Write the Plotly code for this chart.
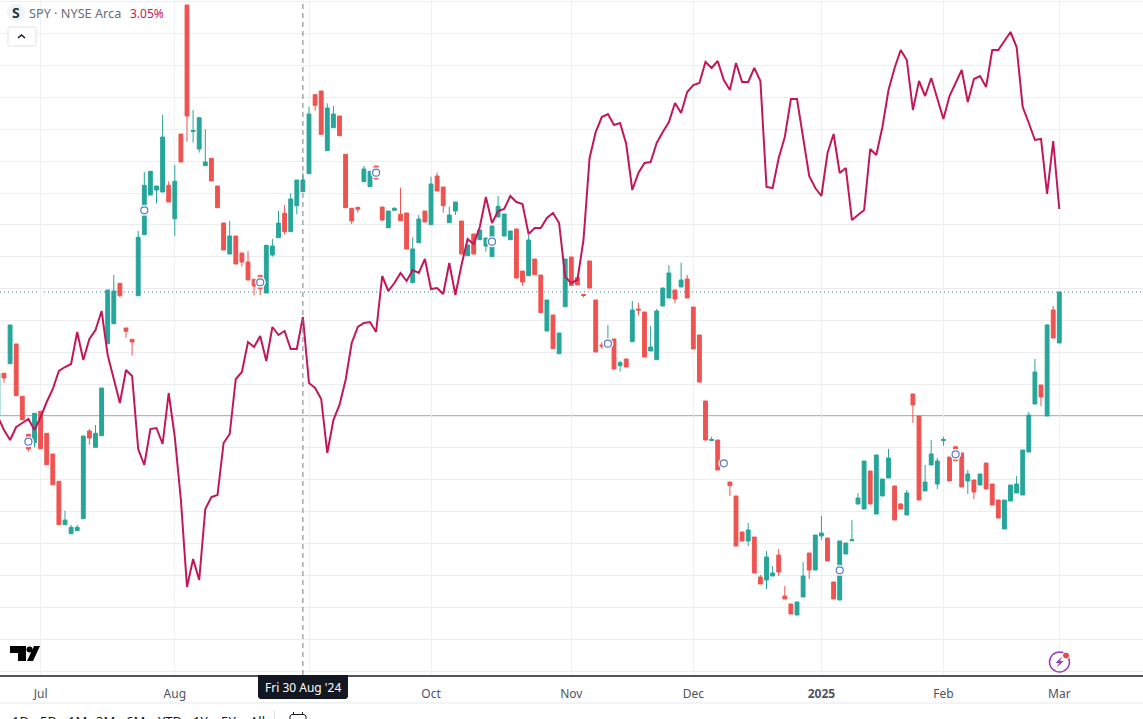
import numpy as np
import plotly.graph_objects as go

# rebased levels (the source hides its price axis)
open_levels = [
    285, 326.7, 336.3, 356, 303.7, 265.7, 257.3, 288.7, 266.7, 246,
    218.7, 175.3, 166.3, 169.3, 181.3, 269, 252.7, 264.3, 356.3, 376.3,
    416.7, 372, 360.7, 404.3, 465.3, 505, 510, 508, 514.7, 481.3,
    566, 695, 568.5, 551, 534.3, 541.7, 514, 477, 446, 464,
    447, 438, 420.7, 424.7, 407, 445, 462.3, 486.7, 468.3, 494.3,
    508.3, 526.3, 605.3, 609, 549.3, 572.3, 584, 545.7, 491.7, 492.7,
    518.3, 513.3, 534, 493, 472.3, 489.7, 485.7, 487, 417.3, 457.3,
    489, 475.3, 524, 513, 477.3, 489, 479, 444.3, 466, 460.3,
    454, 443.3, 483, 464, 460.3, 471, 429, 424.3, 441, 425,
    369, 385, 346.3, 393.3, 443, 422.3, 405.5, 439, 400, 355,
    354, 361, 334.3, 341, 358.3, 391, 388, 349, 340.3, 394,
    402, 410, 413, 421, 393, 365, 299, 259.5, 260, 235,
    218, 204, 168, 159, 163, 123, 120, 124, 145, 104,
    96, 85, 103, 147, 130, 164, 162, 118, 100, 146,
    159.2, 196, 191, 229, 186, 204, 222, 214, 196, 185,
    306, 284, 209, 235, 216, 259.5, 243, 253.3, 247, 219,
    220, 215, 237, 216, 200, 171, 199, 207, 205, 248,
    296, 315, 284, 390, 357,
]
high_levels = [
    327, 326.7, 375, 356, 303.7, 265.7, 286.7, 288.7, 266.7, 246,
    218.7, 189.3, 175, 175, 264, 271, 275, 312, 410, 425,
    416.7, 372, 360.7, 469, 528, 528.7, 514, 585, 518.7, 535,
    566, 695, 590, 582.3, 570.7, 541.7, 514, 477, 479, 464,
    447, 449, 420.7, 424.7, 454.7, 461, 489.3, 495, 506.7, 520,
    527.3, 593.3, 605.3, 609, 596.7, 594, 584, 545.7, 491.7, 492.7,
    534, 528.7, 534, 493, 489, 492.7, 512.3, 487, 462.7, 485,
    489, 523.3, 527.7, 513, 493.3, 498, 479, 455, 466, 470,
    462, 474, 504, 486, 469, 471, 429, 465, 441, 425,
    400, 385, 367, 441, 443, 422.3, 405.5, 439, 400, 358,
    375, 361, 339.3, 341, 399, 397.3, 388, 374, 391, 412,
    435, 410, 437.3, 425, 393, 365, 299, 263.3, 260, 239,
    218, 204, 168, 177, 163, 125, 149, 134, 151, 114,
    96, 98, 138, 147, 165, 184, 162, 118, 159, 157,
    180, 207, 239, 229, 245, 221, 251, 214, 197, 210,
    306, 284, 235, 260, 242, 263.3, 243, 253.3, 247, 230,
    220, 226, 237, 216, 200, 200, 215, 224, 250, 288,
    341, 315, 376, 394, 408,
]
low_levels = [
    285, 317.3, 336.3, 304.3, 280.3, 248.3, 252.7, 251.3, 235.3, 215.3,
    175.3, 175.3, 166.3, 169.3, 181.3, 255.3, 252.7, 264.3, 356.3, 376.3,
    403, 362.3, 344.3, 404.3, 465.3, 505, 496.7, 508, 498, 464,
    538, 558.3, 557.3, 547.3, 534.3, 519, 492.3, 450, 446, 436,
    433.3, 420, 404.7, 404.7, 407, 443.3, 462.3, 465.3, 468.3, 485.7,
    508.3, 526.3, 589.3, 565.7, 549.3, 572.3, 564.3, 492.3, 475.7, 487.3,
    518.3, 513.3, 521, 479, 472.3, 489.7, 479.3, 451, 417.3, 457.3,
    478, 475.3, 509, 487.3, 477.3, 485, 446, 444.3, 446, 460.3,
    448.3, 443.3, 483, 464, 460.3, 422, 414.3, 424.3, 425.3, 387.3,
    369, 351.3, 346.3, 393.3, 414.5, 415, 402.7, 412, 348, 351.3,
    354, 331, 328.3, 333, 358.3, 384.7, 343, 349, 340.3, 394,
    402, 397, 413, 402, 351, 318, 260, 259.5, 230, 235,
    204, 154, 159, 154, 127, 116, 111, 124, 124, 101,
    86, 85, 103, 121, 130, 160, 139, 101, 100, 146,
    159.2, 196, 191, 196, 186, 204, 222, 180, 191, 185,
    277, 200, 209, 235, 211, 254.3, 219, 239.3, 213, 206,
    201, 215, 211, 195, 182, 171, 199, 207, 205, 248,
    296, 294, 284, 362, 357,
]
close_levels = [
    327, 322, 375, 304.3, 280.3, 251, 286.7, 251.3, 235.3, 215.3,
    175.3, 180, 172.7, 172.7, 264, 262, 266.7, 312, 410, 409,
    404.3, 368.7, 358, 462.7, 514.7, 528.7, 514, 563, 498, 518.7,
    538, 584, 569.5, 582.3, 538, 519, 492.3, 450, 464, 436,
    438, 420, 414, 411.3, 454.7, 454, 477, 468.3, 501, 520,
    520, 586, 594.7, 565.7, 592, 586, 564.3, 492.3, 479, 490.7,
    531, 528.7, 521, 480, 489, 491.7, 479.3, 451, 451, 481,
    478, 516, 509, 494.3, 485, 498, 446, 455, 446, 470,
    462, 474, 493.7, 486, 469, 422, 418, 460, 425.3, 387.3,
    400, 351.3, 367, 441, 414.5, 415, 404.5, 412, 348, 354,
    359, 331, 337.3, 333, 390, 390, 343, 353, 389, 412,
    427, 401, 420, 402, 351, 318, 260, 260.5, 230, 239,
    214.3, 154, 159, 170, 127, 116, 143, 127, 128, 101,
    86, 98, 124, 130, 165, 167, 139, 101, 159, 157,
    160.2, 202, 239, 196, 245, 221, 242, 180, 191, 207,
    295, 200, 218, 246, 239, 260.5, 219, 239.3, 213, 226,
    208, 226, 211, 195, 182, 200, 215, 216, 250, 285,
    328, 303, 375, 362, 408,
]
compare_levels = [
    283, 270, 260, 273, 277, 281, 270, 283, 298, 311,
    329, 333, 336, 368, 340, 361, 370, 389, 345, 320,
    297, 330, 324, 251, 235, 271, 272, 256, 307, 263,
    200, 113, 141, 120, 191, 203, 205, 257, 266, 321,
    328, 358, 353, 364, 339, 373, 365, 369, 351, 351,
    383, 317, 312, 301, 247, 280, 295, 320, 357, 373,
    377, 378, 368, 424, 409, 417, 427, 419, 430, 427,
    441, 411, 412, 406, 437, 405, 435, 461, 456, 473,
    503, 477, 489, 491, 504, 498, 496, 466, 472, 472,
    482, 487, 477, 423, 417, 420, 460, 542, 568, 583,
    586, 575, 577, 556, 510, 527, 537, 538, 557, 568,
    578, 597, 587, 608, 615, 617, 638, 632, 639, 620,
    610, 637, 618, 618, 632, 619, 513, 512, 542, 563,
    601, 601, 560, 524, 512, 504, 547, 566, 527, 532,
    480, 485, 490, 551, 545, 573, 610, 632, 650, 640,
    590, 619, 604, 622, 602, 581, 604, 617, 630, 598,
    621, 624, 613, 650, 650, 659, 668, 653, 593, 577,
    560, 561, 506, 559, 491,
]
event_bars = [5, 24, 43, 62, 81, 100, 119, 138, 157]
event_levels = [258.3, 489.7, 417.7, 527.3, 458.3, 356.3, 236.7, 129.7, 245.7]

month_bars = [7, 29, 51, 71, 94, 114, 135, 155, 174]
month_labels = ['Jul', 'Aug', '', 'Oct', 'Nov', 'Dec', '<b>2025</b>', 'Feb', 'Mar']
range_labels = ['1D', '5D', '1M', '3M', '6M', 'YTD', '1Y', '5Y', 'All']
range_label_px = [20, 48, 77, 105, 135, 170, 200, 228, 257]

base_level = 284.5
last_level = 408
cursor_bar = 50

GREEN = '#26a69a'
RED = '#ef5350'
CRIMSON = '#c2185b'
FONT = 'Noto Sans'

WIDTH, HEIGHT, AXIS_PX = 1143, 719, 675


def px(x):
    return x / WIDTH


def py(y):
    return 1 - y / AXIS_PX


def path_shape(points, close=True, **kwargs):
    d = 'M' + ' L'.join('{:.5f},{:.5f}'.format(px(x), py(y)) for x, y in points)
    if close:
        d += ' Z'
    return dict(type='path', xref='paper', yref='paper', path=d, layer='above', **kwargs)


def circle_shape(cx, cy, r, **kwargs):
    return dict(type='circle', xref='paper', yref='paper', x0=px(cx - r), x1=px(cx + r),
                y0=py(cy + r), y1=py(cy - r), layer='above', **kwargs)


def label(text, x, y, size=12, color='#131722', xanchor='left', yanchor='middle'):
    return dict(text=text, xref='paper', yref='paper', x=px(x), y=py(y), showarrow=False,
                xanchor=xanchor, yanchor=yanchor, font=dict(family=FONT, size=size, color=color),
                borderpad=0, borderwidth=0)


bars = np.arange(len(close_levels))

fig = go.Figure()
fig.add_trace(go.Candlestick(x=bars, open=open_levels, high=high_levels, low=low_levels, close=close_levels,
                             increasing=dict(line=dict(color=GREEN, width=1), fillcolor=GREEN),
                             decreasing=dict(line=dict(color=RED, width=1), fillcolor=RED),
                             showlegend=False, hoverinfo='skip'))
fig.add_trace(go.Scatter(x=bars, y=compare_levels, mode='lines', line=dict(color=CRIMSON, width=2),
                         showlegend=False, hoverinfo='skip'))
fig.add_trace(go.Scatter(x=event_bars, y=event_levels, mode='markers', marker=dict(color='white', size=11),
                         showlegend=False, hoverinfo='skip'))
fig.add_trace(go.Scatter(x=event_bars, y=event_levels, mode='markers',
                         marker=dict(color='white', size=7, line=dict(color='#5b7bc9', width=1.2)),
                         showlegend=False, hoverinfo='skip'))

fig.add_hline(y=base_level, line_color='#b2b5be', line_width=1, layer='below')
fig.add_hline(y=last_level, line_color='#3f7f8c', line_width=1, line_dash='1px,3px', layer='below')
fig.add_vline(x=cursor_bar, line_color='#787b86', line_width=1, line_dash='5px,4px')

shapes = [
    # symbol badge and collapse button
    circle_shape(16, 12.5, 9, fillcolor='#f0f3fa', line_width=0),
    path_shape([(8, 28), (9, 27), (35, 27), (36, 28), (36, 45), (35, 46), (9, 46), (8, 45)],
               fillcolor='white', line=dict(color='#e0e3eb', width=1)),
    path_shape([(18, 38), (21.5, 35), (25, 38)], close=False, line=dict(color='#131722', width=1.5)),
    # TradingView logo
    path_shape([(10, 646), (26, 646), (26, 661), (18, 661), (18, 653), (10, 653)], fillcolor='#000000', line_width=0),
    circle_shape(29.5, 649.5, 3, fillcolor='#000000', line_width=0),
    path_shape([(34, 646), (40, 646), (33, 661), (27, 661)], fillcolor='#000000', line_width=0),
    # lightning badge
    circle_shape(1059.5, 662, 10, fillcolor='white', line=dict(color='#9c3fb5', width=1.5)),
    circle_shape(1066, 655.5, 3.5, fillcolor='#e5484d', line=dict(color='white', width=1)),
    path_shape([(1062, 656.5), (1055.5, 663), (1059, 663), (1057, 667.5), (1063.5, 661), (1060, 661)],
               fillcolor='#9c3fb5', line_width=0),
    # crosshair date tag
    path_shape([(258, 675), (348, 675), (348, 697), (346, 699), (260, 699), (258, 697)],
               fillcolor='#131722', line_width=0),
    # strip below the time scale
    dict(type='line', xref='paper', yref='paper', x0=0, x1=1, y0=py(703), y1=py(703),
         line=dict(color='#e6e8ec', width=1), layer='above'),
    dict(type='line', xref='paper', yref='paper', x0=px(274.5), x1=px(274.5), y0=py(710), y1=py(719),
         line=dict(color='#e0e3eb', width=1), layer='above'),
    path_shape([(290, 726), (290, 716), (292, 714.5), (304, 714.5), (306, 716), (306, 726)], close=False,
               line=dict(color='#131722', width=1)),
    path_shape([(293.5, 712), (293.5, 715)], close=False, line=dict(color='#131722', width=1)),
    path_shape([(302.5, 712), (302.5, 715)], close=False, line=dict(color='#131722', width=1)),
]
for shape in shapes:
    fig.add_shape(**shape)

annotations = [
    label('<b>S</b>', 16, 12.5, size=14, color='#1f3a3a', xanchor='center'),
    label('SPY · NYSE Arca', 29, 13, size=12.7, color='#6a6d78'),
    label('3.05%', 129.5, 13, size=12, color=CRIMSON),
    label("Fri 30 Aug '24", 303, 687.5, size=12, color='white', xanchor='center'),
]
for text, x in zip(range_labels, range_label_px):
    annotations.append(label(text, x, 711.5, size=13, xanchor='center', yanchor='top'))
for annotation in annotations:
    fig.add_annotation(**annotation)

fig.update_layout(width=WIDTH, height=HEIGHT, margin=dict(l=0, r=0, t=0, b=HEIGHT - AXIS_PX),
                  paper_bgcolor='white', plot_bgcolor='white', boxgap=0.1, hovermode=False,
                  font=dict(family=FONT))
fig.update_xaxes(range=[0.344, 187.72], tickmode='array', tickvals=month_bars, ticktext=month_labels,
                 rangeslider_visible=False, showgrid=True, gridcolor='#eef1f6', gridwidth=1, zeroline=False,
                 showline=True, linecolor='#50535e', linewidth=1.5, ticks='outside', ticklen=7,
                 tickcolor='rgba(0,0,0,0)', tickfont=dict(family=FONT, size=12, color='#50535e'))
fig.update_yaxes(range=[25, 700], tickmode='linear', tick0=29, dtick=31.86, showticklabels=False,
                 showgrid=True, gridcolor='#ebedf0', gridwidth=1, zeroline=False, showline=False)

fig.write_html('out.html', config=dict(displayModeBar=False),
               post_script="document.body.style.margin='0';")
